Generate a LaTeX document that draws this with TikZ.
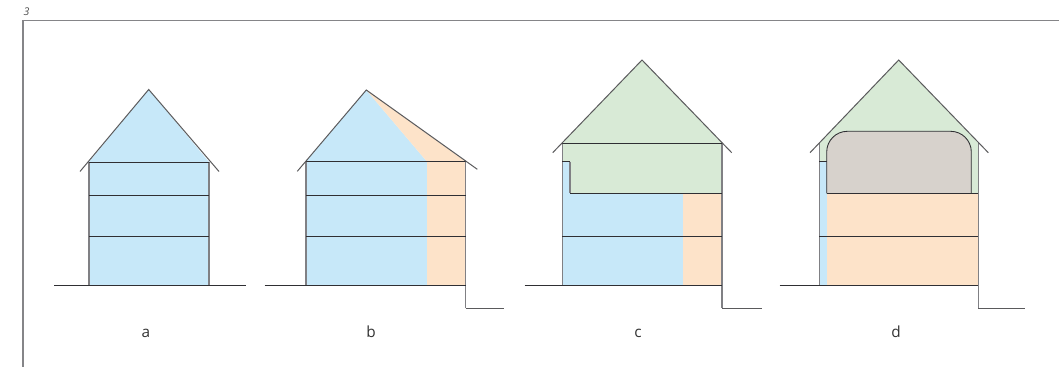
\documentclass[tikz,border=0pt]{standalone}
\usepackage{fontspec}
\setmainfont{Open Sans}
\definecolor{hblue}{HTML}{C7E8F9}
\definecolor{horange}{HTML}{FDE3C9}
\definecolor{hgreen}{HTML}{D8EAD6}
\definecolor{hgrey}{HTML}{D7D2CC}
\definecolor{wallc}{HTML}{808084}
\definecolor{roofc}{HTML}{5A5A5C}
\definecolor{floorc}{HTML}{2F2F33}
\definecolor{framec}{HTML}{858588}
\tikzset{
  wall/.style={draw=wallc,line width=1pt},
  roofline/.style={draw=roofc,line width=0.75pt},
  floorline/.style={draw=floorc,line width=0.65pt},
  frameline/.style={draw=framec,line width=0.8pt},
  caption/.style={font=\fontsize{11.5}{13}\selectfont,text=black!80,inner sep=0pt,anchor=base},
}
\begin{document}
\begin{tikzpicture}[x=0.75pt,y=-0.75pt]
\useasboundingbox (0,0) rectangle (1059,367);
% frame
\draw[frameline] (1059,20.5) -- (23,20.5) -- (23,367);
\node[font=\fontsize{8}{9}\selectfont\itshape,text=black!70,inner sep=0pt] (num) at (26.5,12) {3};
% ---------- a
\fill[hblue] (89,285) -- (89,162) -- (148.7,89.5) -- (209,162) -- (209,285) -- cycle;
\draw[wall] (89,162) -- (89,285);
\draw[wall] (209,162) -- (209,285);
\draw[floorline] (89,162) -- (209,162);
\draw[floorline] (89,195.3) -- (209,195.3);
\draw[floorline] (89,236) -- (209,236);
\draw[roofline] (80,171.5) -- (148.7,89.5) -- (219,171.5);
\draw[floorline] (54,285.3) -- (246,285.3);
\node[caption] (la) at (146,337) {a};
% ---------- b
\fill[hblue] (306,285) -- (306,161.7) -- (366.3,90) -- (427,161.7) -- (427,285) -- cycle;
\fill[horange] (427,285) -- (427,161.7) -- (366.3,90) -- (465.7,161.7) -- (465.7,285) -- cycle;
\draw[wall] (306,161.7) -- (306,285);
\draw[wall] (465.7,161.7) -- (465.7,308) ;
\draw[floorline] (306,161.7) -- (465.7,161.7);
\draw[floorline] (306,195.3) -- (465.7,195.3);
\draw[floorline] (306,236) -- (465.7,236);
\draw[roofline] (297.3,171.3) -- (366.3,90) -- (477.3,169.3);
\draw[floorline] (264.7,285.3) -- (465.7,285.3);
\draw[roofline] (465.7,308) -- (504,308);
\node[caption] (lb) at (371,337) {b};
% ---------- c
\fill[hgreen] (562.3,143) -- (642,60) -- (722,143) -- (722,193.3) -- (570,193.3) -- (570,161.7) -- (562.3,161.7) -- cycle;
\fill[hblue] (562.3,161.7) -- (570,161.7) -- (570,193.3) -- (683,193.3) -- (683,285) -- (562.3,285) -- cycle;
\fill[horange] (683,193.3) rectangle (722,285);
\draw[wall] (562.3,143) -- (562.3,285);
\draw[wall] (722,143) -- (722,308);
\draw[floorline] (562.3,143) -- (722,143);
\draw[floorline] (562.3,161.7) -- (570,161.7);
\draw[wall] (570,161.7) -- (570,193.3);
\draw[floorline] (570,193.3) -- (722,193.3);
\draw[floorline] (562.3,236) -- (722,236);
\draw[roofline] (552.7,152.7) -- (642,60) -- (731.7,152.7);
\draw[floorline] (524.7,285.3) -- (722,285.3);
\draw[roofline] (722,308) -- (762.3,308);
\node[caption] (lc) at (638,337) {c};
% ---------- d
\fill[hgreen] (819.3,143) -- (898.7,60) -- (978.3,143) -- (978.3,193.3) -- (826.7,193.3) -- (826.7,161.7) -- (819.3,161.7) -- cycle;
\fill[hblue] (819.3,161.7) rectangle (826.7,285);
\fill[horange] (826.7,193.3) rectangle (978.3,285);
\draw[floorline,fill=hgrey,rounded corners=15.5pt] (826.7,193.3) -- (826.7,131.3) -- (971.3,131.3) -- (971.3,193.3);
\draw[wall] (819.3,143) -- (819.3,285);
\draw[wall] (978.3,143) -- (978.3,308);
\draw[floorline] (819.3,161.7) -- (826.7,161.7);
\draw[floorline] (826.7,193.3) -- (978.3,193.3);
\draw[floorline] (819.3,236) -- (978.3,236);
\draw[roofline] (810,152.7) -- (898.7,60) -- (988.3,152.7);
\draw[floorline] (779.7,285.3) -- (978.3,285.3);
\draw[roofline] (978.3,308) -- (1025,308);
\node[caption] (ld) at (896,337) {d};
\end{tikzpicture}
\end{document}
